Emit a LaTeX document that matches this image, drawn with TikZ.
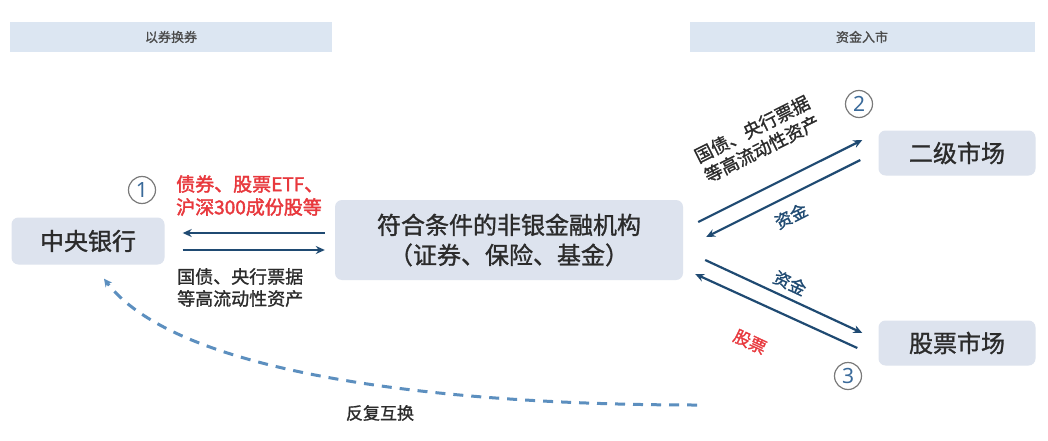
\documentclass[tikz,border=0pt]{standalone}
\usepackage{fontspec}
\newfontfamily\cjk[FakeBold=1.2]{Noto Sans CJK SC}
\newfontfamily\cjkheavy[FakeBold=2]{Noto Sans CJK SC}
\newfontfamily\numfont{Noto Sans}
\usetikzlibrary{arrows.meta,calc}
\definecolor{hdrblue}{HTML}{DCE6F2}
\definecolor{boxblue}{HTML}{DDE3EE}
\definecolor{arrblue}{HTML}{1F4A72}
\definecolor{dashblue}{HTML}{5C8FBF}
\definecolor{lblred}{HTML}{E8383D}
\definecolor{txtgray}{HTML}{2B2B2B}
\definecolor{circgray}{HTML}{7A7A7A}
\definecolor{numblue}{HTML}{3A6A9A}
\tikzset{
  hdr/.style={fill=hdrblue, minimum height=30pt, inner sep=0pt, text=txtgray!85, font=\cjk\fontsize{13}{15}\selectfont},
  mainbox/.style={fill=boxblue, rounded corners=7pt, inner sep=0pt, text=txtgray, font=\cjk\fontsize{24}{30}\selectfont},
  flow/.style={draw=arrblue, line width=2.2pt, -{Stealth[length=9pt,width=8pt]}},
  swap/.style={draw=dashblue, line width=3pt, dash pattern=on 10pt off 8pt, -{Stealth[length=8pt,width=8pt]}},
  redlbl/.style={text=lblred, font=\cjkheavy\fontsize{19}{23}\selectfont, align=left, inner sep=0pt},
  graylbl/.style={text=txtgray, font=\cjk\fontsize{18}{22}\selectfont, align=left, inner sep=0pt},
  bluelbl/.style={text=arrblue, font=\cjk\fontsize{17}{20}\selectfont, inner sep=0pt},
  numc/.style={circle, draw=circgray, line width=1.2pt, minimum size=27pt, inner sep=0pt, text=numblue, font=\numfont\fontsize{21}{21}\selectfont}
}
\begin{document}
\begin{tikzpicture}[x=1pt,y=-1pt]
\useasboundingbox[fill=white] (0,0) rectangle (1048,441);
% header bars
\node[hdr, minimum width=322pt] (h1) at (171,37) {以券换券};
\node[hdr, minimum width=345pt] (h2) at (862,37) {资金入市};
% main boxes
\node[mainbox, minimum width=153pt, minimum height=47pt] (cb) at (88,241) {中央银行};
\node[mainbox, minimum width=348pt, minimum height=80pt, align=center] (nb) at (509,240) {符合条件的非银金融机构\\（证券、保险、基金）};
\node[mainbox, minimum width=157pt, minimum height=45pt] (sm) at (957,153) {二级市场};
\node[mainbox, minimum width=157pt, minimum height=45pt] (gm) at (957,343) {股票市场};
% left arrows
\draw[flow] ($(nb.west)+(-10,-7)$) -- ($(cb.east)+(18,-8)$);
\draw[flow] ($(cb.east)+(18,9)$) -- ($(nb.west)+(-10,10)$);
% upper right arrows
\draw[flow] ($(nb.east)+(15,-18)$) -- ($(sm.west)+(-16,-13)$);
\draw[flow] ($(sm.west)+(-18,7)$) -- ($(nb.east)+(23,-3)$);
% lower right arrows
\draw[flow] ($(nb.east)+(22,20)$) -- ($(gm.west)+(-16,-10)$);
\draw[flow] ($(gm.west)+(-21,5)$) -- ($(nb.east)+(12,34)$);
% dashed return curve
\coordinate (dstart) at (697,405);
\draw[swap] (dstart) .. controls (430,405) and (175,372) .. ($(cb.south)+(16,14)$);
% labels
\node[numc] (n1) at (142,190) {1};
\node[numc] (n2) at (859,104) {2};
\node[numc] (n3) at (848,376) {3};
\node[redlbl, anchor=north west] (l1) at (176,175) {债券、股票ETF、\\沪深300成份股等};
\node[graylbl, anchor=north west] (l2) at (177,268) {国债、央行票据\\等高流动性资产};
\node[graylbl, rotate=26.6, align=center] (l3) at (757,139) {国债、央行票据\\等高流动性资产};
\node[bluelbl, rotate=26.6] (l4) at (791,216) {资金};
\node[bluelbl, rotate=-25] (l5) at (790,283) {资金};
\node[bluelbl, text=lblred, rotate=-25] (l6) at (750,342) {股票};
\node[graylbl, font=\cjk\fontsize{17}{20}\selectfont] (l7) at (380,413) {反复互换};
\end{tikzpicture}
\end{document}
